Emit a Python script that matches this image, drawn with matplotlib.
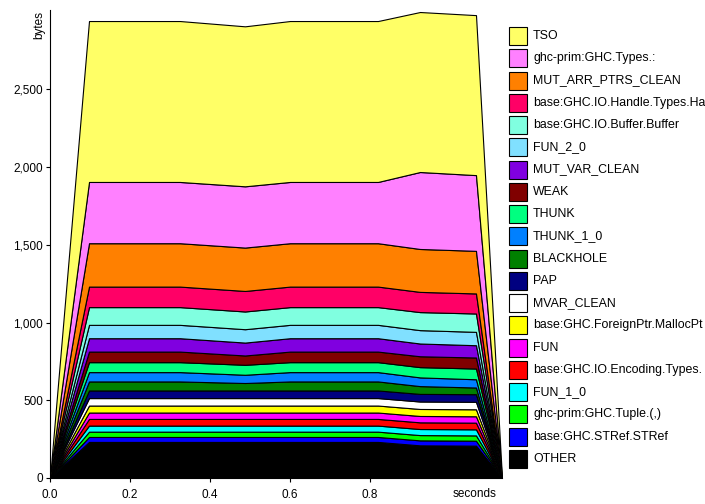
import matplotlib.pyplot as plt
from matplotlib.patches import Rectangle
from matplotlib.ticker import FuncFormatter
import numpy as np

plt.rcParams['font.family'] = ['Liberation Sans', 'DejaVu Sans']

# sample times (seconds)
times = [0.0, 0.0975, 0.325, 0.4875, 0.6, 0.82, 0.925, 1.065, 1.13]

# cost centres, bottom of the stack first (long names are cut short in the key)
bands = ["OTHER", "base:GHC.STRef.STRef", "ghc-prim:GHC.Tuple.(,)", "FUN_1_0",
         "base:GHC.IO.Encoding.Types.", "FUN",
         "base:GHC.ForeignPtr.MallocPt", "MVAR_CLEAN", "PAP", "BLACKHOLE",
         "THUNK_1_0", "THUNK", "WEAK", "MUT_VAR_CLEAN", "FUN_2_0",
         "base:GHC.IO.Buffer.Buffer", "base:GHC.IO.Handle.Types.Ha",
         "MUT_ARR_PTRS_CLEAN", "ghc-prim:GHC.Types.:", "TSO"]

colors = ["#000000", "#0000ff", "#00ff00", "#00ffff", "#ff0000", "#ff00ff",
          "#ffff00", "#ffffff", "#000080", "#008000", "#0080ff", "#00ff80",
          "#800000", "#8000e0", "#80e0ff", "#80ffe0", "#ff0066", "#ff8000",
          "#ff80ff", "#ffff66"]

# bytes per band at each sample
other     = [0, 232, 232, 232, 232, 232, 210, 208, 0]
stref     = [0, 32, 32, 32, 32, 32, 32, 32, 0]
tuple2    = [0, 34, 34, 34, 34, 34, 34, 34, 0]
fun_1_0   = [0, 39, 39, 39, 39, 39, 39, 39, 0]
codec     = [0, 43, 43, 43, 43, 43, 43, 43, 0]
fun       = [0, 41, 41, 41, 41, 41, 41, 41, 0]
mallocptr = [0, 45, 45, 45, 45, 45, 45, 45, 0]
mvar      = [0, 48, 48, 48, 48, 48, 48, 48, 0]
pap       = [0, 49, 49, 49, 49, 49, 49, 49, 0]
blackhole = [0, 58, 58, 48, 58, 58, 50, 43, 0]
thunk_1_0 = [0, 60, 60, 53, 60, 60, 56, 53, 0]
thunk     = [0, 64, 64, 64, 64, 64, 66, 69, 0]
weak      = [0, 68, 68, 60, 68, 68, 70, 71, 0]
mut_var   = [0, 86, 86, 83, 86, 86, 82, 79, 0]
fun_2_0   = [0, 86, 86, 86, 86, 86, 86, 86, 0]
buffer    = [0, 114, 114, 114, 114, 114, 116, 118, 0]
handle    = [0, 132, 132, 132, 132, 132, 130, 129, 0]
mut_arr   = [0, 279, 279, 279, 279, 279, 276, 274, 0]
cons      = [0, 394, 394, 394, 394, 394, 495, 487, 0]
tso       = [0, 1035, 1035, 1029, 1035, 1035, 1029, 1029, 0]

series = [other, stref, tuple2, fun_1_0, codec, fun, mallocptr, mvar, pap,
          blackhole, thunk_1_0, thunk, weak, mut_var, fun_2_0, buffer,
          handle, mut_arr, cons, tso]

fig = plt.figure(figsize=(7.05, 5.04), dpi=100)
ax = fig.add_axes([50 / 705, 26 / 504, 452 / 705, 468 / 504])

ax.stackplot(times, np.array(series), colors=colors,
             edgecolor="black", linewidth=0.8)

ax.set_xlim(0, 1.13)
ax.set_ylim(0, 3010)
ax.set_xticks([0.0, 0.2, 0.4, 0.6, 0.8])
ax.set_yticks([0, 500, 1000, 1500, 2000, 2500])
ax.xaxis.set_major_formatter(FuncFormatter(lambda v, p: "%.1f" % v))
ax.yaxis.set_major_formatter(FuncFormatter(lambda v, p: "{:,}".format(int(v))))
ax.tick_params(labelsize=8.5, length=3, width=0.8, colors="black", pad=2)
ax.tick_params(axis="x", pad=5)
for s in ["top", "right"]:
    ax.spines[s].set_visible(False)
for s in ["left", "bottom"]:
    ax.spines[s].set_linewidth(0.8)

fig.text(39 / 705, 1 - 25 / 504, "bytes", rotation=90, fontsize=8.5,
         ha="center", va="center")
fig.text(475 / 705, 1 - 494 / 504, "seconds", fontsize=8.5,
         ha="center", va="center")

# key, top band first
for i, (name, col) in enumerate(zip(bands[::-1], colors[::-1])):
    yc = 36 + i * 22.26
    fig.add_artist(Rectangle((509 / 705, 1 - (yc + 9) / 504), 18 / 705, 18 / 504,
                             transform=fig.transFigure, facecolor=col,
                             edgecolor="black", linewidth=0.8))
    fig.text(533 / 705, 1 - yc / 504, name, fontsize=8.9, va="center", ha="left")

fig.savefig("out.png", dpi=100)
